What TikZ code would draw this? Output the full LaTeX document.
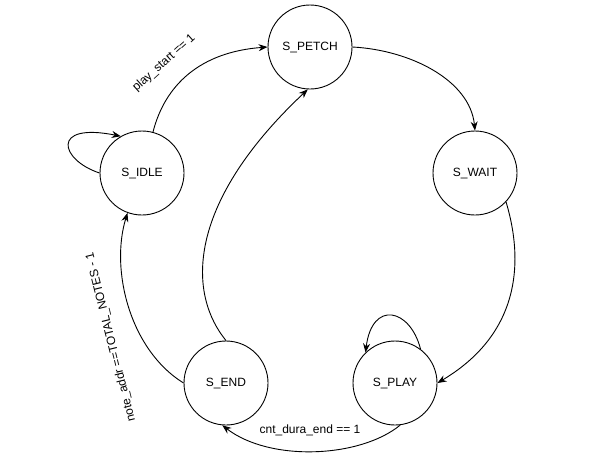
\documentclass[tikz,border=0pt]{standalone}
\usepackage{fontspec}
\setmainfont{Liberation Sans}
\usetikzlibrary{arrows.meta}
\begin{document}
\begin{tikzpicture}[x=1pt,y=1pt,line width=0.9pt]
\tikzstyle{every node}+=[inner sep=0pt,font=\fontsize{12}{14}\selectfont]
\tikzstyle{state}=[draw,black,circle,minimum size=84pt]
\tikzstyle{trans}=[black,-{Stealth[length=9pt,width=7pt]}]
\useasboundingbox (0,0) rectangle (613,-467);
\node [state] (petch) at (310,-47) {S\_PETCH};
\node [state] (wait) at (475,-173) {S\_WAIT};
\node [state] (idle) at (142,-173) {S\_IDLE};
\node [state] (end) at (226,-383) {S\_END};
\node [state] (play) at (395,-383) {S\_PLAY};
\draw [trans] (idle.180) .. controls (60,-160) and (50,-122) .. (idle.120);
\draw [trans] (idle.75) .. controls (165,-85) and (200,-52) .. (petch.180);
\node [rotate=42] (lblstart) at (164,-63) {play\_start == 1};
\draw [trans] (petch.0) .. controls (410,-50) and (470,-80) .. (wait.90);
\draw [trans] (wait.-43) .. controls (525,-265) and (518,-335) .. (play.0);
\draw [trans] (play.53) .. controls (410,-308) and (372,-300) .. (play.134);
\draw [trans] (play.-83) .. controls (360,-458) and (270,-462) .. (end.-95);
\node (lbldura) at (310,-430) {cnt\_dura\_end == 1};
\draw [trans] (end.180) .. controls (130,-350) and (110,-270) .. (idle.-110);
\node [rotate=104] (lblnotes) at (111,-337) {note\_addr ==TOTAL\_NOTES - 1};
\draw [trans] (end.90) .. controls (185,-290) and (190,-200) .. (petch.-93);
\end{tikzpicture}
\end{document}
